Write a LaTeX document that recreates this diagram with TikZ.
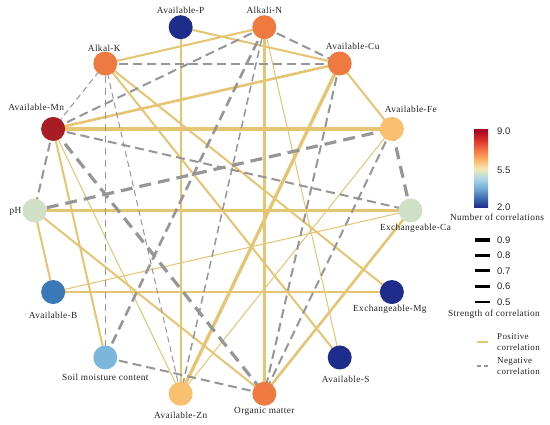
\documentclass[tikz,border=0pt]{standalone}
\usepackage{fontspec}
\setmainfont{Liberation Serif}[LetterSpace=4]
\newfontfamily\numfont{Liberation Sans}
\usetikzlibrary{calc}
\pgfdeclarelayer{back}
\pgfdeclarelayer{bg}
\pgfsetlayers{back,bg,main}
\definecolor{pos}{RGB}{229,196,114}
\definecolor{neg}{RGB}{150,150,150}
\definecolor{c2}{RGB}{30,44,140}
\definecolor{c3}{RGB}{58,120,184}
\definecolor{c4}{RGB}{122,183,219}
\definecolor{c5}{RGB}{207,224,199}
\definecolor{c6}{RGB}{249,192,111}
\definecolor{c7}{RGB}{238,122,66}
\definecolor{c9}{RGB}{168,28,36}
\definecolor{txt}{RGB}{35,35,35}
\definecolor{m0}{RGB}{28,40,138}
\definecolor{m1}{RGB}{62,110,180}
\definecolor{m2}{RGB}{116,173,209}
\definecolor{m3}{RGB}{171,217,233}
\definecolor{m4}{RGB}{245,232,180}
\definecolor{m5}{RGB}{253,174,97}
\definecolor{m6}{RGB}{244,109,67}
\definecolor{m7}{RGB}{215,48,39}
\definecolor{m8}{RGB}{165,0,38}
\pgfdeclareverticalshading{rdylbu}{100bp}{color(0bp)=(m0); color(25bp)=(m0); color(31.25bp)=(m1); color(37.5bp)=(m2); color(43.75bp)=(m3); color(50bp)=(m4); color(56.25bp)=(m5); color(62.5bp)=(m6); color(68.75bp)=(m7); color(75bp)=(m8); color(100bp)=(m8)}
\tikzset{
  vn/.style={circle, minimum size=24pt, inner sep=0pt, draw=none},
  lab/.style={font=\fontsize{9.3}{10}\selectfont, inner sep=0pt, text=txt},
  num/.style={font=\numfont\fontsize{9.5}{10}\selectfont, inner sep=0pt, anchor=west, text=txt},
  p5/.style={draw=pos, line width=1pt},
  p6/.style={draw=pos, line width=1.5pt},
  p7/.style={draw=pos, line width=2pt},
  p8/.style={draw=pos, line width=2.6pt},
  p9/.style={draw=pos, line width=3.3pt},
  n5/.style={draw=neg, line width=1pt, dash pattern=on 6pt off 4pt},
  n6/.style={draw=neg, line width=1.5pt, dash pattern=on 7.5pt off 4.5pt},
  n7/.style={draw=neg, line width=2pt, dash pattern=on 9pt off 5pt},
  n8/.style={draw=neg, line width=2.6pt, dash pattern=on 10pt off 5.5pt},
  n9/.style={draw=neg, line width=3.2pt, dash pattern=on 12pt off 7pt},
}
\begin{document}
\begin{tikzpicture}[x=1pt,y=1pt]
\useasboundingbox (0,0) rectangle (550,425);
\begin{pgfonlayer}{back}
\fill[white] (0,0) rectangle (550,425);
\end{pgfonlayer}
\coordinate (O) at (222.5,214.5);
% nodes
\node[vn,fill=c7] (N)    at ($(O)+(77.14:188)$) {};
\node[vn,fill=c2] (P)    at ($(O)+(102.86:188)$) {};
\node[vn,fill=c7] (K)    at ($(O)+(128.57:188)$) {};
\node[vn,fill=c9] (Mn)   at ($(O)+(154.29:188)$) {};
\node[vn,fill=c5] (pH)   at ($(O)+(180:188)$) {};
\node[vn,fill=c3] (B)    at ($(O)+(205.71:188)$) {};
\node[vn,fill=c4] (Soil) at ($(O)+(231.43:188)$) {};
\node[vn,fill=c6] (Zn)   at ($(O)+(257.14:188)$) {};
\node[vn,fill=c7] (OM)   at ($(O)+(282.86:188)$) {};
\node[vn,fill=c2] (S)    at ($(O)+(308.57:188)$) {};
\node[vn,fill=c2] (Mg)   at ($(O)+(334.29:188)$) {};
\node[vn,fill=c5] (Ca)   at ($(O)+(0:188)$) {};
\node[vn,fill=c6] (Fe)   at ($(O)+(25.71:188)$) {};
\node[vn,fill=c7] (Cu)   at ($(O)+(51.43:188)$) {};
% labels
\node[lab] (lP)   at ($(P)+(0,17)$) {Available-P};
\node[lab] (lN)   at ($(N)+(0,17)$) {Alkali-N};
\node[lab] (lK)   at ($(K)+(-1,15.5)$) {Alkal-K};
\node[lab] (lCu)  at ($(Cu)+(13,17.5)$) {Available-Cu};
\node[lab] (lMn)  at ($(Mn)+(-17,21.5)$) {Available-Mn};
\node[lab] (lFe)  at ($(Fe)+(19,20)$) {Available-Fe};
\node[lab,anchor=east] (lpH) at ($(pH)+(-13,-1)$) {pH};
\node[lab] (lCa)  at ($(Ca)+(5,-17.5)$) {Exchangeable-Ca};
\node[lab] (lB)   at ($(B)+(0,-23)$) {Available-B};
\node[lab] (lMg)  at ($(Mg)+(-2,-17)$) {Exchangeable-Mg};
\node[lab] (lS)   at ($(S)+(6,-21.5)$) {Available-S};
\node[lab] (lSoil) at ($(Soil)+(0,-20)$) {Soil moisture content};
\node[lab] (lZn)  at ($(Zn)+(0,-22)$) {Available-Zn};
\node[lab] (lOM)  at ($(OM)+(0,-17.5)$) {Organic matter};
% edges
\begin{pgfonlayer}{bg}
% positive
\draw[p7] (P.center) -- (Cu.center);
\draw[p7] (P.center) -- (Zn.center);
\draw[p7] (N.center) -- (K.center);
\draw[p8] (N.center) -- (OM.center);
\draw[p5] (N.center) -- (S.center);
\draw[p7] (K.center) -- (Mg.center);
\draw[p7] (K.center) -- (S.center);
\draw[p7] (Cu.center) -- (Fe.center);
\draw[p8] (Cu.center) -- (Mn.center);
\draw[p9] (Cu.center) -- (Zn.center);
\draw[p9] (Mn.center) -- (Fe.center);
\draw[p7] (Mn.center) -- (Soil.center);
\draw[p5] (Mn.center) -- (Zn.center);
\draw[p5] (Fe.center) -- (Zn.center);
\draw[p9] (pH.center) -- (Ca.center);
\draw[p7] (pH.center) -- (B.center);
\draw[p7] (pH.center) -- (OM.center);
\draw[p8] (Ca.center) -- (OM.center);
\draw[p5] (B.center) -- (Ca.center);
\draw[p6] (B.center) -- (Mg.center);
% negative
\draw[n7] (N.center) -- (Cu.center);
\draw[n7] (N.center) -- (Mn.center);
\draw[n8] (N.center) -- (Soil.center);
\draw[n6] (N.center) -- (Zn.center);
\draw[n7] (K.center) -- (Cu.center);
\draw[n5] (K.center) -- (Mn.center);
\draw[n6] (K.center) -- (Soil.center);
\draw[n5] (K.center) -- (Zn.center);
\draw[n7] (Cu.center) -- (OM.center);
\draw[n7] (Mn.center) -- (pH.center);
\draw[n7] (Mn.center) -- (Ca.center);
\draw[n9] (Mn.center) -- (OM.center);
\draw[n9] (Fe.center) -- (pH.center);
\draw[n9] (Fe.center) -- (Ca.center);
\draw[n7] (Fe.center) -- (OM.center);
\draw[n7] (Soil.center) -- (OM.center);
\end{pgfonlayer}
% legend: colour bar
\node[inner sep=0pt, minimum width=14pt, minimum height=78pt, shading=rdylbu, anchor=south west] (bar) at (474,217) {};
\node[num] (t90) at (497,294) {9.0};
\node[num] (t55) at (497,255) {5.5};
\node[num] (t20) at (497,218) {2.0};
\node[lab] (tnum) at (497,208) {Number of correlations};
% legend: strength
\coordinate (s9a) at (475,185); \coordinate (s9b) at (490,185);
\coordinate (s8a) at (475,169.5); \coordinate (s8b) at (490,169.5);
\coordinate (s7a) at (475,154); \coordinate (s7b) at (490,154);
\coordinate (s6a) at (475,138.5); \coordinate (s6b) at (490,138.5);
\coordinate (s5a) at (475,123); \coordinate (s5b) at (490,123);
\draw[line width=4pt] (s9a) -- (s9b);
\draw[line width=3.5pt] (s8a) -- (s8b);
\draw[line width=3pt] (s7a) -- (s7b);
\draw[line width=2.5pt] (s6a) -- (s6b);
\draw[line width=2pt] (s5a) -- (s5b);
\node[num] (t9) at (497,185) {0.9};
\node[num] (t8) at (497,169.5) {0.8};
\node[num] (t7) at (497,154) {0.7};
\node[num] (t6) at (497,138.5) {0.6};
\node[num] (t5) at (497,123) {0.5};
\node[lab] (tstr) at (494,111) {Strength of correlation};
% legend: sign
\coordinate (pa) at (477,83); \coordinate (pb) at (488,83);
\coordinate (na) at (477,59); \coordinate (nb) at (488,59);
\draw[draw=pos, line width=2pt] (pa) -- (pb);
\draw[draw=neg, line width=2pt, dash pattern=on 4pt off 3pt] (na) -- (nb);
\node[lab, anchor=west, align=left, font=\fontsize{9}{11}\selectfont] (tpos) at (497,83) {Positive\\correlation};
\node[lab, anchor=west, align=left, font=\fontsize{9}{11}\selectfont] (tneg) at (497,59) {Negative\\correlation};
\end{tikzpicture}
\end{document}
